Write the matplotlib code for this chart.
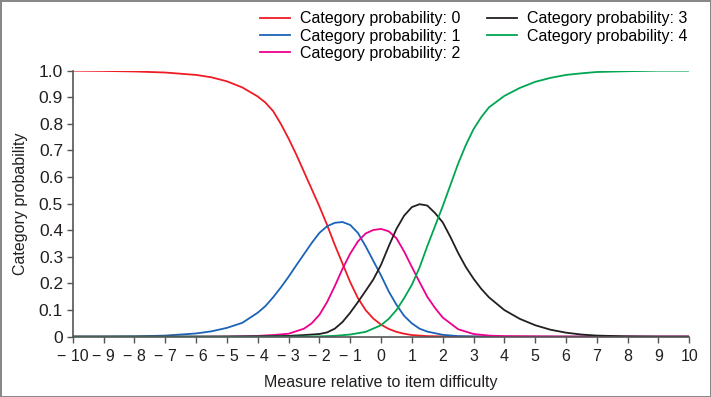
import numpy as np
import matplotlib
matplotlib.use('Agg')
import matplotlib.pyplot as plt

plt.rcParams['font.family'] = ['Liberation Sans', 'DejaVu Sans']

# measure values (logits) and the category probabilities
x0 = [-10, -9, -8, -7, -6, -5.5, -5, -4.5, -4, -3.75, -3.5, -3.25, -3, -2.75, -2.5, -2.25, -2, -1.75, -1.5,
      -1.25, -1, -0.75, -0.5, -0.25, 0, 0.25, 0.5, 0.75, 1, 1.5, 2, 3, 10]
p0 = [1.0, 0.999, 0.997, 0.993, 0.984, 0.975, 0.96, 0.937, 0.903, 0.88, 0.848, 0.80, 0.745, 0.685, 0.62, 0.555,
      0.49, 0.42, 0.345, 0.275, 0.205, 0.145, 0.10, 0.068, 0.045, 0.029, 0.018, 0.011, 0.006, 0.002, 0.001, 0.0, 0.0]

x1 = [-10, -9, -8, -7, -6, -5.5, -5, -4.5, -4, -3.75, -3.5, -3.25, -3, -2.75, -2.5, -2.25, -2, -1.75, -1.5,
      -1.25, -1, -0.75, -0.5, -0.25, 0, 0.25, 0.5, 0.75, 1, 1.25, 1.5, 2, 2.5, 3, 4, 10]
p1 = [0.0, 0.0, 0.001, 0.004, 0.012, 0.02, 0.033, 0.052, 0.09, 0.115, 0.148, 0.185, 0.225, 0.268, 0.31, 0.352,
      0.39, 0.415, 0.428, 0.431, 0.42, 0.39, 0.34, 0.285, 0.23, 0.17, 0.12, 0.078, 0.05, 0.03, 0.019, 0.007,
      0.002, 0.001, 0.0, 0.0]

x2 = [-10, -6, -5, -4, -3.5, -3, -2.5, -2.25, -2, -1.75, -1.5, -1.25, -1, -0.75, -0.5, -0.25, 0, 0.25, 0.5,
      0.75, 1, 1.25, 1.5, 1.75, 2, 2.5, 3, 3.5, 4, 5, 6, 10]
p2 = [0.0, 0.0, 0.001, 0.003, 0.006, 0.011, 0.03, 0.05, 0.082, 0.13, 0.19, 0.255, 0.312, 0.358, 0.388, 0.401,
      0.405, 0.396, 0.37, 0.32, 0.262, 0.205, 0.15, 0.108, 0.072, 0.028, 0.01, 0.004, 0.002, 0.001, 0.0, 0.0]

x3 = [-10, -5, -4, -3, -2.5, -2, -1.75, -1.5, -1.25, -1, -0.75, -0.5, -0.25, 0, 0.25, 0.5, 0.75, 1, 1.25, 1.5,
      1.75, 2, 2.25, 2.5, 2.75, 3, 3.25, 3.5, 4, 4.5, 5, 5.5, 6, 6.5, 7, 8, 9, 10]
p3 = [0.0, 0.0, 0.001, 0.003, 0.006, 0.01, 0.016, 0.03, 0.055, 0.09, 0.13, 0.172, 0.215, 0.27, 0.34, 0.405,
      0.455, 0.487, 0.498, 0.493, 0.465, 0.43, 0.375, 0.315, 0.262, 0.218, 0.18, 0.148, 0.1, 0.067, 0.043,
      0.026, 0.015, 0.008, 0.004, 0.001, 0.0, 0.0]

x4 = [-10, -3, -2, -1.5, -1, -0.5, 0, 0.25, 0.5, 0.75, 1, 1.25, 1.5, 1.75, 2, 2.25, 2.5, 2.75, 3, 3.25, 3.5,
      4, 4.5, 5, 5.5, 6, 6.5, 7, 8, 9, 10]
p4 = [0.0, 0.0, 0.001, 0.003, 0.008, 0.018, 0.043, 0.067, 0.1, 0.145, 0.195, 0.26, 0.34, 0.415, 0.49, 0.57,
      0.65, 0.72, 0.78, 0.825, 0.862, 0.905, 0.935, 0.958, 0.973, 0.984, 0.99, 0.995, 0.998, 1.0, 1.0]

series = [(x0, p0, 'Category probability: 0', '#ee1c25'),
          (x1, p1, 'Category probability: 1', '#1c63b7'),
          (x2, p2, 'Category probability: 2', '#ec008c'),
          (x3, p3, 'Category probability: 3', '#231f20'),
          (x4, p4, 'Category probability: 4', '#00a651')]

xticks = list(range(-10, 11))
xticklabels = [f'\u2212 {abs(t)}' if t < 0 else str(t) for t in xticks]
yticks = [i / 10 for i in range(11)]
yticklabels = ['0'] + [f'{t:.1f}' for t in yticks[1:]]

fig = plt.figure(figsize=(7.11, 3.97), dpi=100)
fig.patch.set_edgecolor('#888888')
fig.patch.set_linewidth(2)
ax = fig.add_axes([0.1023, 0.152, 0.8672, 0.670])

for xs, ps, label, color in series:
    ax.plot(xs, ps, color=color, lw=1.3, label=label, solid_joinstyle='round')

ax.set_xlim(-10, 10)
ax.set_ylim(0, 1)
ax.set_xticks(xticks)
ax.set_xticklabels(xticklabels)
ax.set_yticks(yticks)
ax.set_yticklabels(yticklabels)
ax.tick_params(labelsize=12.5, length=4, width=1, color='#555555', labelcolor='#231f20', pad=3)
ax.tick_params(axis='x', labelsize=11.5, pad=5)

for side in ['top', 'right']:
    ax.spines[side].set_visible(False)
for side in ['left', 'bottom']:
    ax.spines[side].set_color('#555555')
    ax.spines[side].set_linewidth(1.2)

ax.set_xlabel('Measure relative to item difficulty', fontsize=11.5, color='#231f20', labelpad=8)
ax.set_ylabel('Category probability', fontsize=11.5, color='#231f20', labelpad=8)

ax.legend(loc='lower right', bbox_to_anchor=(1.012, 1.0), ncol=2, frameon=False, fontsize=11.5,
          handlelength=1.9, columnspacing=1.65, labelspacing=0.15, handletextpad=0.6, borderaxespad=0.2)

fig.savefig('out.png', dpi=100)
